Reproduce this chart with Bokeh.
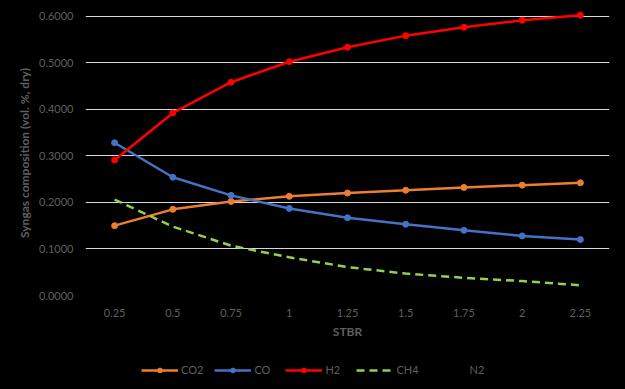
from bokeh.plotting import figure
from bokeh.layouts import column
from bokeh.models import (ColumnDataSource, FactorRange, Range1d, FixedTicker,
                          NumeralTickFormatter, Legend, LegendItem)
from bokeh.embed import file_html
from bokeh.resources import INLINE

stbr = ["0.25", "0.5", "0.75", "1", "1.25", "1.5", "1.75", "2", "2.25"]
co2 = [0.150, 0.185, 0.202, 0.213, 0.220, 0.226, 0.232, 0.237, 0.242]
co = [0.328, 0.254, 0.215, 0.187, 0.167, 0.153, 0.140, 0.128, 0.120]
h2 = [0.291, 0.392, 0.458, 0.502, 0.533, 0.558, 0.576, 0.591, 0.602]
ch4 = [0.206, 0.148, 0.107, 0.082, 0.061, 0.047, 0.038, 0.031, 0.022]
n2 = [0.0, 0.0, 0.0, 0.0, 0.0, 0.0, 0.0, 0.0, 0.0]
y_ticks = [0.0, 0.1, 0.2, 0.3, 0.4, 0.5, 0.6]

src = ColumnDataSource(dict(x=stbr, co2=co2, co=co, h2=h2, ch4=ch4, n2=n2))

FONT = "Lato"
TXT = "#5f5f5f"

xr = FactorRange(*stbr, range_padding=0)

fig = figure(width=625, height=345, output_backend="svg", toolbar_location=None,
             x_range=xr, y_range=Range1d(0, 0.612),
             min_border_left=85, min_border_right=16, min_border_top=10,
             min_border_bottom=50)
fig.background_fill_color = "black"
fig.border_fill_color = "black"
fig.outline_line_color = None

fig.xgrid.grid_line_color = None
fig.ygrid.grid_line_color = "#d9d9d9"
fig.ygrid.grid_line_width = 1
fig.yaxis.ticker = FixedTicker(ticks=y_ticks)
fig.yaxis.formatter = NumeralTickFormatter(format="0.0000")

for ax in (fig.xaxis[0], fig.yaxis[0]):
    ax.axis_line_color = None
    ax.major_tick_line_color = None
    ax.minor_tick_line_color = None
    ax.major_tick_out = 0
    ax.major_tick_in = 0
    ax.major_label_text_font = FONT
    ax.major_label_text_font_size = "11px"
    ax.major_label_text_color = TXT
    ax.axis_label_text_font = FONT
    ax.axis_label_text_font_size = "12px"
    ax.axis_label_text_font_style = "bold"
    ax.axis_label_text_color = TXT

fig.yaxis.axis_label = "Syngas composition (vol. %, dry)"
fig.yaxis.major_label_standoff = 12
fig.yaxis.axis_label_standoff = 4
fig.xaxis.axis_label = "STBR"
fig.xaxis.major_label_standoff = 13
fig.xaxis.axis_label_standoff = 4

# legend strip (separate figure so the legend is not clipped by the plot frame)
leg = figure(width=625, height=44, output_backend="svg", toolbar_location=None,
             x_range=xr, y_range=Range1d(10, 11),
             min_border=0)
leg.axis.visible = False
leg.grid.visible = False
leg.background_fill_color = "black"
leg.border_fill_color = "black"
leg.outline_line_color = None

series = [("CO2", "co2", "#ed7d31"), ("CO", "co", "#4472c4"), ("H2", "h2", "#ff0000")]
items = []
for name, col, color in series:
    fig.line("x", col, source=src, line_color=color, line_width=2.5)
    fig.scatter("x", col, source=src, marker="circle", size=6,
                fill_color=color, line_color=color)
    l = leg.line("x", col, source=src, line_color=color, line_width=2.5)
    s = leg.scatter("x", col, source=src, marker="circle", size=6,
                    fill_color=color, line_color=color)
    items.append(LegendItem(label=name, renderers=[l, s]))

fig.line("x", "ch4", source=src, line_color="#92d050", line_width=2.5,
         line_dash="8 5")
l4 = leg.line("x", "ch4", source=src, line_color="#92d050", line_width=2.5,
              line_dash="8 5")
items.append(LegendItem(label="CH4", renderers=[l4]))
l5 = leg.line("x", "n2", source=src, line_color="#a5a5a5", line_alpha=0)
items.append(LegendItem(label="N2", renderers=[l5]))

legend = Legend(items=items, orientation="horizontal", location=(56, 13),
                glyph_width=37, glyph_height=12, label_standoff=3, spacing=11,
                padding=0, margin=0,
                label_text_font=FONT, label_text_font_size="11px",
                label_text_color=TXT,
                background_fill_alpha=0, border_line_color=None)
leg.add_layout(legend)

p = column(fig, leg, spacing=0)
p.styles = {"background-color": "black"}

open("out.html", "w").write(file_html(p, INLINE))
